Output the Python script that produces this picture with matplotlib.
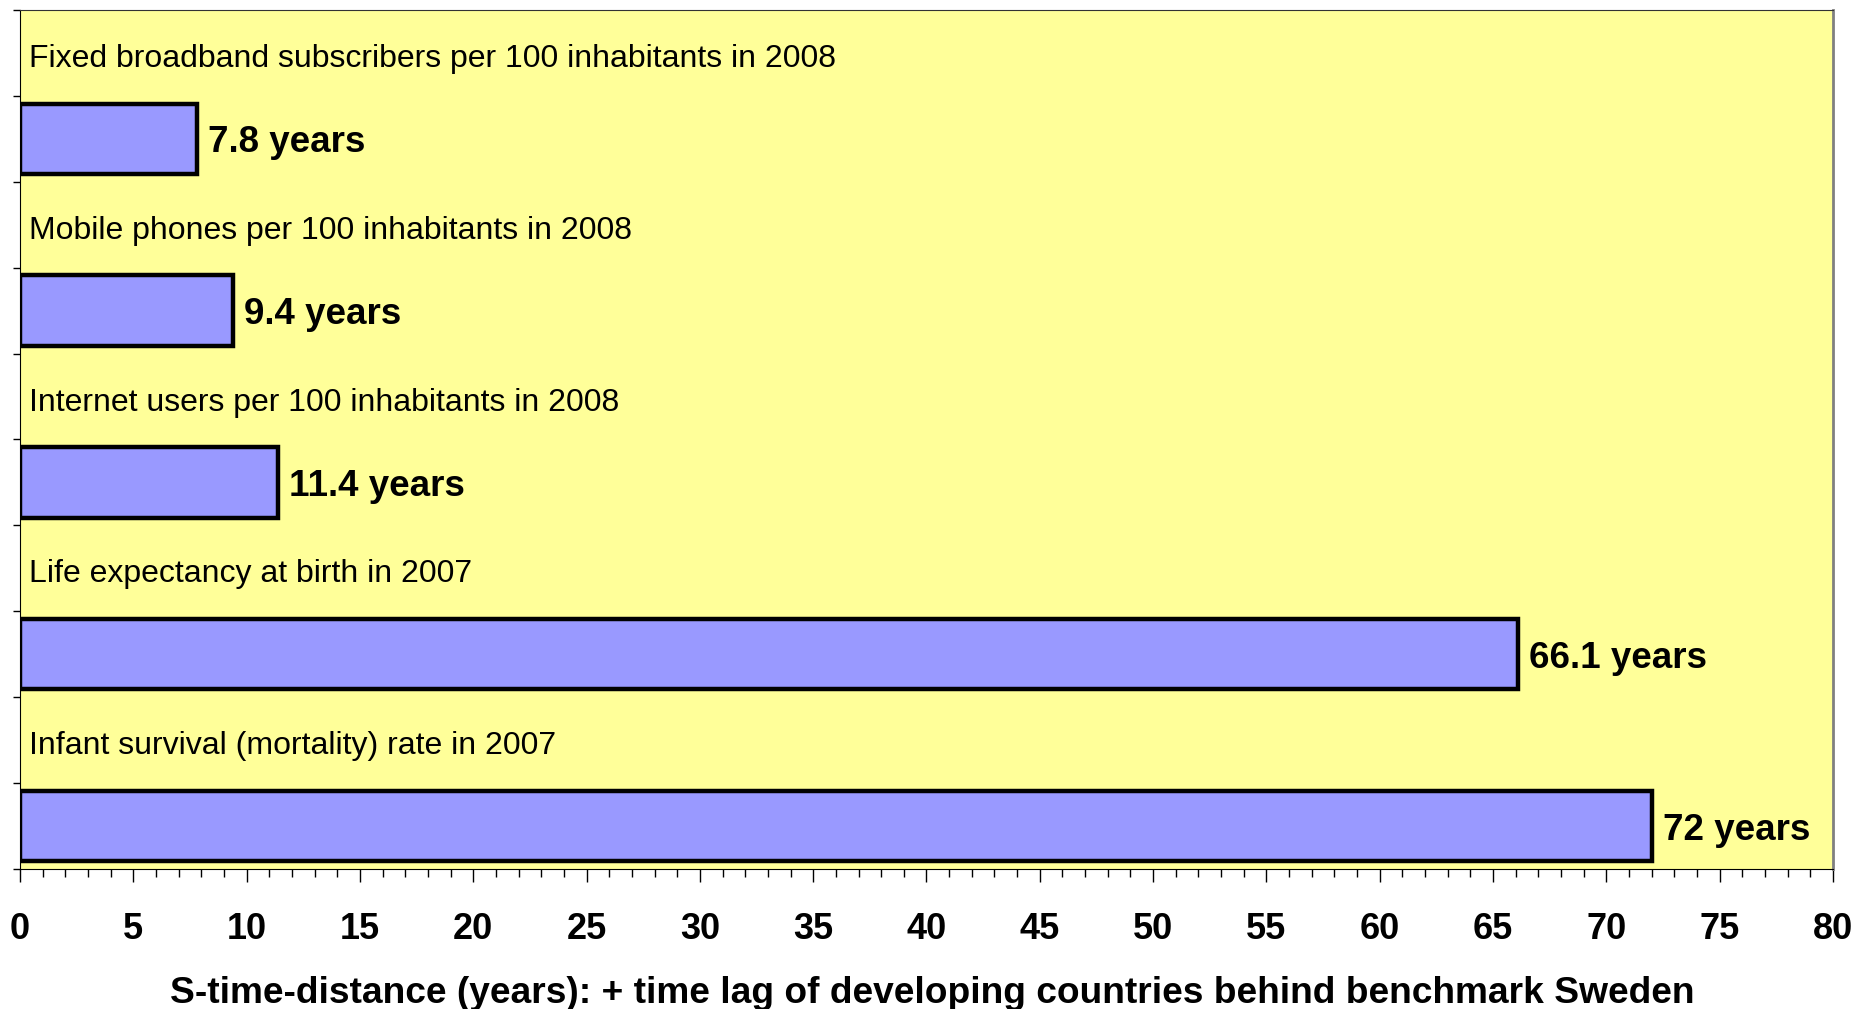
"""
S-time-distance bar chart: time lag of developing countries behind Sweden.
"""

import matplotlib
matplotlib.use("Agg")
import matplotlib.pyplot as plt
from matplotlib.ticker import MultipleLocator, FixedLocator

plt.rcParams['font.family'] = ['Liberation Sans', 'DejaVu Sans']

# Data
indicators = ["Fixed broadband subscribers per 100 inhabitants in 2008",
              "Mobile phones per 100 inhabitants in 2008",
              "Internet users per 100 inhabitants in 2008",
              "Life expectancy at birth in 2007",
              "Infant survival (mortality) rate in 2007"]
lag_years = [7.8, 9.4, 11.4, 66.1, 72]
lag_labels = ["7.8 years", "9.4 years", "11.4 years", "66.1 years", "72 years"]

# Each indicator uses two rows: a label row and a bar row
label_pos = [2 * i for i in range(len(indicators))]
bar_pos = [2 * i + 1 for i in range(len(indicators))]

fig = plt.figure(figsize=(18.58, 10.09), dpi=100)
ax = fig.add_axes([20 / 1858, 1 - 869 / 1009, (1833 - 20) / 1858, (869 - 10) / 1009])
ax.set_facecolor('#FFFF99')

ax.barh(bar_pos, lag_years, height=0.82, color='#9999FF', edgecolor='black', linewidth=3.2, zorder=3)

for y, txt in zip(label_pos, indicators):
    ax.text(0.4, y + 0.03, txt, fontsize=23, va='center_baseline', ha='left')

for y, v, txt in zip(bar_pos, lag_years, lag_labels):
    ax.annotate(txt, (v, y), xytext=(8, 0), textcoords='offset points',
                fontsize=26.5, fontweight='bold', va='center_baseline', ha='left')

ax.set_xlim(0, 80)
ax.set_ylim(2 * len(indicators) - 0.5, -0.5)

ax.xaxis.set_major_locator(MultipleLocator(5))
ax.xaxis.set_minor_locator(MultipleLocator(1))
ax.tick_params(axis='x', which='major', direction='out', length=9, width=1, pad=22, labelsize=26)
ax.tick_params(axis='x', which='minor', direction='out', length=5.5, width=1)
for lbl in ax.get_xticklabels():
    lbl.set_fontweight('bold')

ax.yaxis.set_major_locator(FixedLocator([k - 0.5 for k in range(2 * len(indicators) + 1)]))
ax.tick_params(axis='y', which='major', direction='out', length=5, width=1, labelleft=False)

ax.spines['left'].set_color('black')
ax.spines['bottom'].set_color('black')
ax.spines['top'].set_color('#333333')
ax.spines['right'].set_color('#808080')
ax.spines['right'].set_linewidth(2)

ax.set_xlabel('S-time-distance (years): + time lag of developing countries behind benchmark Sweden',
              fontsize=26.7, fontweight='bold', labelpad=20)
ax.xaxis.set_label_coords(0.503, -0.125)

fig.savefig("out.png", dpi=100)
